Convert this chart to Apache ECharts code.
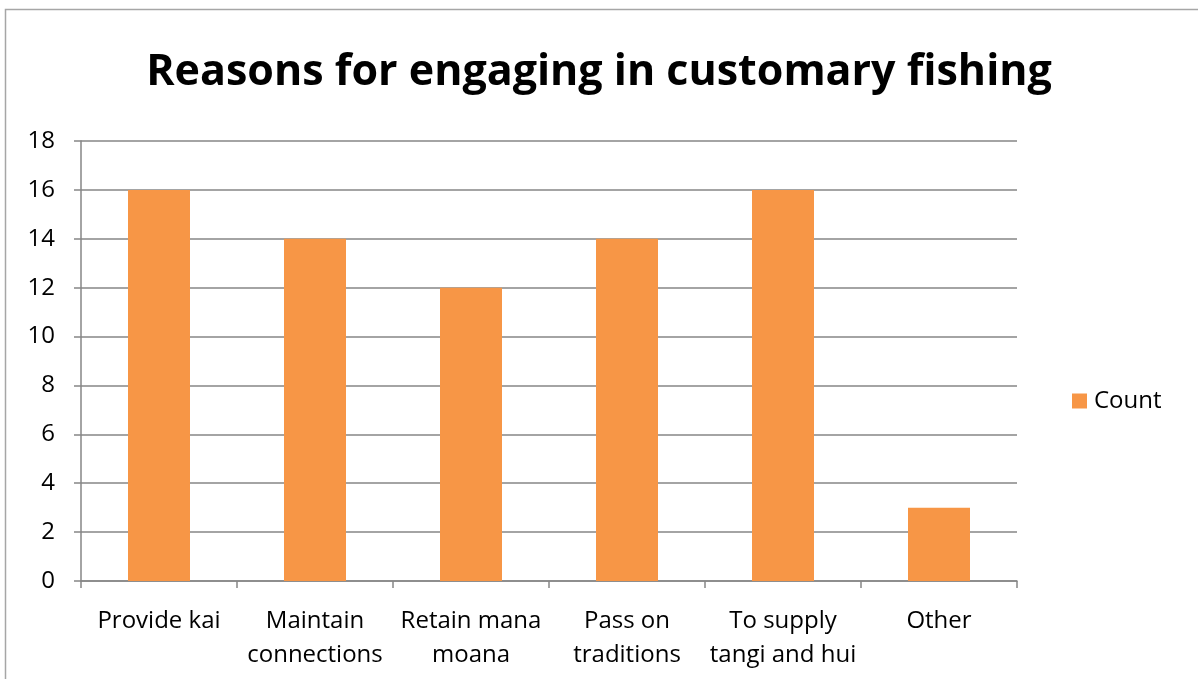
<!DOCTYPE html>
<html><head><meta charset="utf-8">
<script src="https://cdn.jsdelivr.net/npm/echarts@6/dist/echarts.min.js"></script>
<style>html,body{margin:0;padding:0;background:#fff}#c{width:1198px;height:679px}</style>
</head><body><div id="c"></div>
<script>
const categories = ['Provide kai', 'Maintain\nconnections', 'Retain mana\nmoana', 'Pass on\ntraditions', 'To supply\ntangi and hui', 'Other'];
const counts = [16, 14, 12, 14, 16, 3];
const seriesName = 'Count';
const titleText = 'Reasons for engaging in customary fishing';

const chart = echarts.init(document.getElementById('c'), null, {renderer: 'canvas'});
const font = '"Open Sans", "Liberation Sans", sans-serif';
chart.setOption({
  animation: false,
  backgroundColor: '#fff',
  graphic: [{type: 'rect', shape: {x: 5.5, y: 9.5, width: 1300, height: 800}, style: {fill: 'none', stroke: '#a6a6a6', lineWidth: 1.5}, silent: true}],
  title: {text: titleText, left: 'center', top: 46, textStyle: {fontFamily: font, fontWeight: 'bold', fontSize: 43, color: '#000'}},
  legend: {orient: 'vertical', left: 1067, top: 384, itemWidth: 15, itemHeight: 15, itemGap: 10,
    textStyle: {fontFamily: font, fontSize: 24, color: '#000', padding: [0, 0, 0, 2]},
    data: [{name: seriesName, icon: 'rect'}]},
  grid: {left: 81, right: 181, top: 141, bottom: 98, containLabel: false},
  xAxis: {type: 'category', data: categories,
    axisLine: {lineStyle: {color: '#868686', width: 1.5}},
    axisTick: {show: true, length: 7, alignWithLabel: false, lineStyle: {color: '#868686', width: 1.5}},
    axisLabel: {fontFamily: font, fontSize: 24, color: '#000', margin: 23, lineHeight: 34, interval: 0}},
  yAxis: {type: 'value', min: 0, max: 18, interval: 2,
    axisLine: {show: true, lineStyle: {color: '#868686', width: 1.5}},
    axisTick: {show: true, length: 7, lineStyle: {color: '#868686', width: 1.5}},
    splitLine: {lineStyle: {color: '#868686', width: 1.5}},
    axisLabel: {fontFamily: font, fontSize: 24, color: '#000', margin: 26}},
  series: [{name: seriesName, type: 'bar', data: counts, barWidth: 62, itemStyle: {color: '#F79646'}}]
});
</script></body></html>
